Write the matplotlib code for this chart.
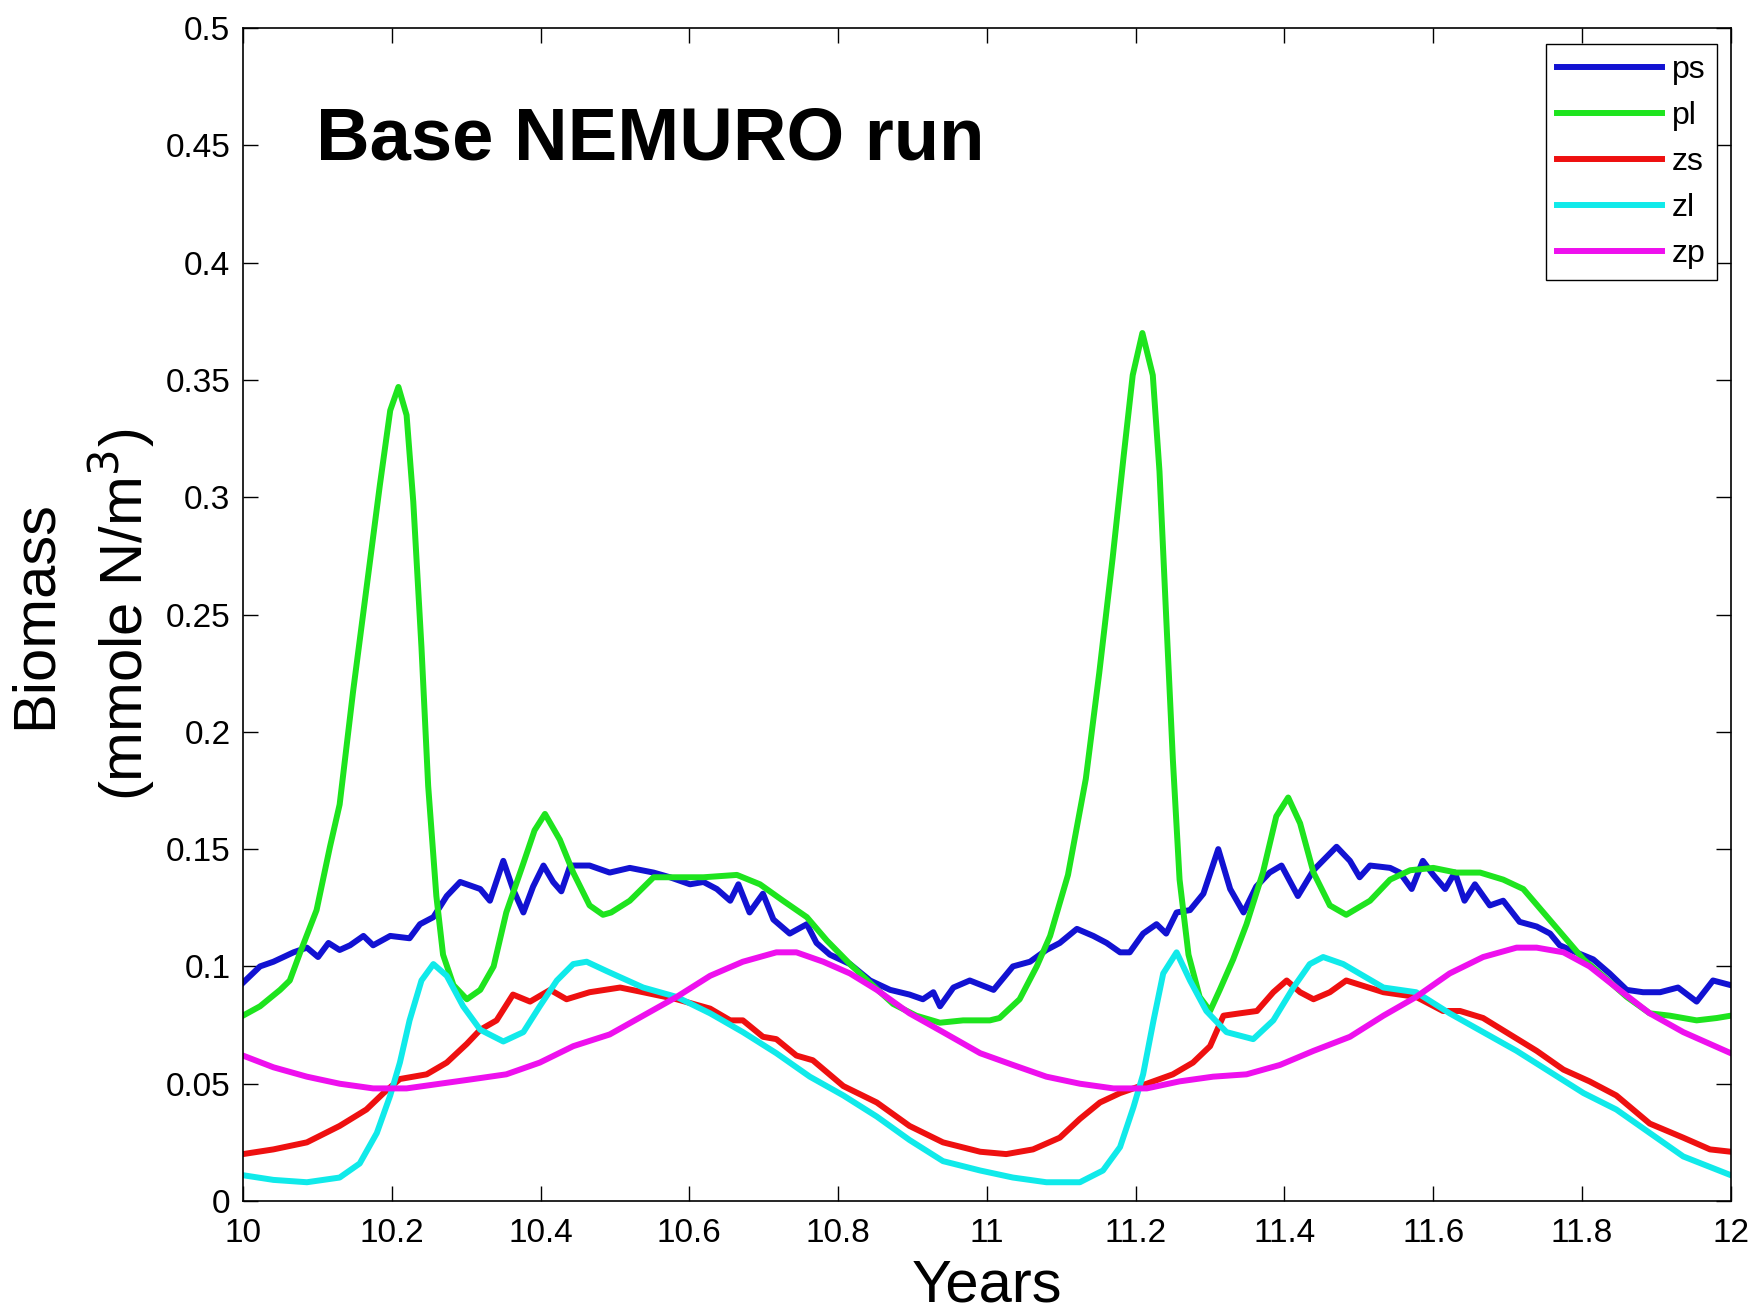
import numpy as np
import matplotlib
matplotlib.use("Agg")
import matplotlib.pyplot as plt

plt.rcParams['font.family'] = ['Liberation Sans', 'DejaVu Sans']

# ps - small phytoplankton
ps_t = [10.000, 10.023, 10.041, 10.068, 10.086, 10.101, 10.115, 10.130, 10.144, 10.162,
        10.175, 10.198, 10.224, 10.238, 10.256, 10.274, 10.292, 10.319, 10.332, 10.350,
        10.363, 10.377, 10.390, 10.404, 10.417, 10.428, 10.440, 10.466, 10.493, 10.520,
        10.552, 10.574, 10.601, 10.619, 10.637, 10.655, 10.666, 10.681, 10.699, 10.713,
        10.735, 10.758, 10.771, 10.789, 10.816, 10.843, 10.870, 10.896, 10.914, 10.928,
        10.937, 10.955, 10.977, 11.009, 11.035, 11.058, 11.080, 11.098, 11.121, 11.143,
        11.161, 11.179, 11.192, 11.210, 11.228, 11.241, 11.255, 11.273, 11.291, 11.311,
        11.327, 11.345, 11.362, 11.380, 11.396, 11.418, 11.439, 11.470, 11.488, 11.501,
        11.515, 11.542, 11.555, 11.571, 11.586, 11.600, 11.616, 11.629, 11.642, 11.656,
        11.676, 11.694, 11.716, 11.739, 11.757, 11.770, 11.792, 11.815, 11.837, 11.860,
        11.882, 11.905, 11.929, 11.954, 11.976, 12.000]
ps_v = [0.093, 0.100, 0.102, 0.106, 0.108, 0.104, 0.110, 0.107, 0.109, 0.113,
        0.109, 0.113, 0.112, 0.118, 0.121, 0.130, 0.136, 0.133, 0.128, 0.145,
        0.133, 0.123, 0.134, 0.143, 0.136, 0.132, 0.143, 0.143, 0.140, 0.142,
        0.140, 0.138, 0.135, 0.136, 0.133, 0.128, 0.135, 0.123, 0.131, 0.120,
        0.114, 0.118, 0.110, 0.105, 0.101, 0.094, 0.090, 0.088, 0.086, 0.089,
        0.083, 0.091, 0.094, 0.090, 0.100, 0.102, 0.107, 0.110, 0.116, 0.113,
        0.110, 0.106, 0.106, 0.114, 0.118, 0.114, 0.123, 0.124, 0.131, 0.150,
        0.133, 0.123, 0.134, 0.140, 0.143, 0.130, 0.141, 0.151, 0.145, 0.138,
        0.143, 0.142, 0.140, 0.133, 0.145, 0.139, 0.133, 0.140, 0.128, 0.135,
        0.126, 0.128, 0.119, 0.117, 0.114, 0.109, 0.106, 0.103, 0.097, 0.090,
        0.089, 0.089, 0.091, 0.085, 0.094, 0.092]

# pl - large phytoplankton
pl_t = [10.000, 10.023, 10.050, 10.063, 10.077, 10.099, 10.117, 10.130, 10.148, 10.166,
        10.184, 10.198, 10.209, 10.220, 10.229, 10.240, 10.249, 10.260, 10.269, 10.283,
        10.301, 10.319, 10.337, 10.354, 10.377, 10.392, 10.406, 10.426, 10.444, 10.466,
        10.484, 10.495, 10.520, 10.552, 10.583, 10.619, 10.664, 10.695, 10.726, 10.758,
        10.785, 10.816, 10.843, 10.874, 10.905, 10.937, 10.968, 11.004, 11.017, 11.044,
        11.067, 11.085, 11.109, 11.133, 11.151, 11.169, 11.184, 11.196, 11.209, 11.223,
        11.232, 11.241, 11.250, 11.259, 11.271, 11.286, 11.300, 11.313, 11.331, 11.349,
        11.371, 11.389, 11.405, 11.421, 11.439, 11.461, 11.483, 11.515, 11.542, 11.569,
        11.600, 11.631, 11.663, 11.694, 11.721, 11.748, 11.775, 11.802, 11.828, 11.860,
        11.891, 11.918, 11.954, 11.981, 12.000]
pl_v = [0.079, 0.083, 0.090, 0.094, 0.106, 0.124, 0.151, 0.169, 0.217, 0.261,
        0.305, 0.337, 0.347, 0.335, 0.298, 0.236, 0.177, 0.130, 0.105, 0.092,
        0.086, 0.090, 0.100, 0.123, 0.144, 0.158, 0.165, 0.154, 0.140, 0.126,
        0.122, 0.123, 0.128, 0.138, 0.138, 0.138, 0.139, 0.135, 0.128, 0.121,
        0.111, 0.101, 0.093, 0.084, 0.079, 0.076, 0.077, 0.077, 0.078, 0.086,
        0.100, 0.113, 0.139, 0.180, 0.225, 0.274, 0.318, 0.352, 0.370, 0.352,
        0.311, 0.249, 0.188, 0.137, 0.105, 0.087, 0.081, 0.090, 0.103, 0.118,
        0.140, 0.164, 0.172, 0.161, 0.140, 0.126, 0.122, 0.128, 0.137, 0.141,
        0.142, 0.140, 0.140, 0.137, 0.133, 0.123, 0.113, 0.103, 0.096, 0.087,
        0.080, 0.079, 0.077, 0.078, 0.079]

# zs - small zooplankton
zs_t = [10.000, 10.041, 10.086, 10.130, 10.166, 10.189, 10.211, 10.247, 10.274, 10.301,
        10.319, 10.341, 10.363, 10.386, 10.413, 10.435, 10.466, 10.507, 10.538, 10.583,
        10.628, 10.655, 10.672, 10.699, 10.717, 10.744, 10.766, 10.807, 10.852, 10.896,
        10.941, 10.991, 11.026, 11.062, 11.098, 11.125, 11.152, 11.179, 11.215, 11.250,
        11.277, 11.300, 11.318, 11.340, 11.363, 11.385, 11.403, 11.421, 11.439, 11.461,
        11.483, 11.533, 11.577, 11.613, 11.636, 11.667, 11.703, 11.739, 11.775, 11.810,
        11.846, 11.891, 11.936, 11.972, 12.000]
zs_v = [0.020, 0.022, 0.025, 0.032, 0.039, 0.046, 0.052, 0.054, 0.059, 0.067,
        0.073, 0.077, 0.088, 0.085, 0.090, 0.086, 0.089, 0.091, 0.089, 0.086,
        0.082, 0.077, 0.077, 0.070, 0.069, 0.062, 0.060, 0.049, 0.042, 0.032,
        0.025, 0.021, 0.020, 0.022, 0.027, 0.035, 0.042, 0.046, 0.050, 0.054,
        0.059, 0.066, 0.079, 0.080, 0.081, 0.089, 0.094, 0.089, 0.086, 0.089,
        0.094, 0.089, 0.087, 0.081, 0.081, 0.078, 0.071, 0.064, 0.056, 0.051,
        0.045, 0.033, 0.027, 0.022, 0.021]

# zl - large zooplankton
zl_t = [10.000, 10.041, 10.086, 10.130, 10.157, 10.180, 10.198, 10.211, 10.224, 10.240,
        10.256, 10.274, 10.296, 10.319, 10.350, 10.377, 10.399, 10.422, 10.444, 10.462,
        10.489, 10.538, 10.583, 10.628, 10.672, 10.717, 10.762, 10.807, 10.852, 10.896,
        10.941, 10.991, 11.035, 11.080, 11.125, 11.156, 11.179, 11.197, 11.210, 11.224,
        11.237, 11.255, 11.273, 11.295, 11.322, 11.358, 11.385, 11.412, 11.434, 11.452,
        11.479, 11.533, 11.577, 11.622, 11.667, 11.712, 11.757, 11.802, 11.846, 11.891,
        11.936, 12.000]
zl_v = [0.011, 0.009, 0.008, 0.010, 0.016, 0.029, 0.045, 0.059, 0.077, 0.094,
        0.101, 0.096, 0.083, 0.073, 0.068, 0.072, 0.083, 0.094, 0.101, 0.102,
        0.098, 0.091, 0.087, 0.080, 0.072, 0.063, 0.053, 0.045, 0.036, 0.026,
        0.017, 0.013, 0.010, 0.008, 0.008, 0.013, 0.023, 0.040, 0.054, 0.077,
        0.097, 0.106, 0.094, 0.081, 0.072, 0.069, 0.077, 0.091, 0.101, 0.104,
        0.101, 0.091, 0.089, 0.080, 0.072, 0.064, 0.055, 0.046, 0.039, 0.029,
        0.019, 0.011]

# zp - predatory zooplankton
zp_t = [10.000, 10.041, 10.086, 10.130, 10.175, 10.220, 10.265, 10.310, 10.354, 10.399,
        10.444, 10.493, 10.538, 10.583, 10.628, 10.672, 10.717, 10.744, 10.780, 10.816,
        10.852, 10.896, 10.941, 10.991, 11.035, 11.080, 11.125, 11.170, 11.215, 11.259,
        11.304, 11.349, 11.394, 11.439, 11.488, 11.533, 11.577, 11.622, 11.667, 11.712,
        11.739, 11.775, 11.810, 11.846, 11.891, 11.936, 12.000]
zp_v = [0.062, 0.057, 0.053, 0.050, 0.048, 0.048, 0.050, 0.052, 0.054, 0.059,
        0.066, 0.071, 0.079, 0.087, 0.096, 0.102, 0.106, 0.106, 0.102, 0.097,
        0.090, 0.080, 0.072, 0.063, 0.058, 0.053, 0.050, 0.048, 0.048, 0.051,
        0.053, 0.054, 0.058, 0.064, 0.070, 0.079, 0.087, 0.097, 0.104, 0.108,
        0.108, 0.106, 0.100, 0.091, 0.080, 0.072, 0.063]

x_ticks = [10, 10.2, 10.4, 10.6, 10.8, 11, 11.2, 11.4, 11.6, 11.8, 12]
x_labels = ['10', '10.2', '10.4', '10.6', '10.8', '11', '11.2', '11.4', '11.6', '11.8', '12']
y_ticks = [0, 0.05, 0.1, 0.15, 0.2, 0.25, 0.3, 0.35, 0.4, 0.45, 0.5]
y_labels = ['0', '0.05', '0.1', '0.15', '0.2', '0.25', '0.3', '0.35', '0.4', '0.45', '0.5']

fig = plt.figure(figsize=(17.59, 13.10), dpi=100)
ax = fig.add_axes([0.1381, 0.0832, 0.8459, 0.8954])

lw = 4.3
ax.plot(ps_t, ps_v, color='#1212d2', lw=lw, label='ps')
ax.plot(pl_t, pl_v, color='#1ee41e', lw=lw, label='pl')
ax.plot(zs_t, zs_v, color='#ee1010', lw=lw, label='zs')
ax.plot(zl_t, zl_v, color='#10eaea', lw=lw, label='zl')
ax.plot(zp_t, zp_v, color='#ee10ee', lw=lw, label='zp')

ax.set_xlim(10, 12)
ax.set_ylim(0, 0.5)
ax.set_xticks(x_ticks)
ax.set_xticklabels(x_labels)
ax.set_yticks(y_ticks)
ax.set_yticklabels(y_labels)
ax.tick_params(direction='in', top=True, right=True, length=11, width=1,
               labelsize=24)
ax.tick_params(axis='y', pad=9)
ax.tick_params(axis='x', pad=12)
for s in ax.spines.values():
    s.set_linewidth(1.2)

ax.set_xlabel('Years', fontsize=43, labelpad=7)
ax.set_ylabel('Biomass\n(mmole N/m$^3$)', fontsize=43, labelpad=6, linespacing=1.42)

ax.text(0.049, 0.8875, 'Base NEMURO run', transform=ax.transAxes,
        fontsize=53.5, fontweight='bold', va='baseline', ha='left')

leg = ax.legend(loc='upper right', bbox_to_anchor=(0.9906, 0.9864), fontsize=23,
                frameon=True, fancybox=False, framealpha=1, edgecolor='black',
                handlelength=3.3, handletextpad=0.3, labelspacing=0.5,
                borderpad=0.35, borderaxespad=0)
leg.get_frame().set_linewidth(1.0)
for line in leg.get_lines():
    line.set_linewidth(4.3)

fig.savefig('out.png', dpi=100)
